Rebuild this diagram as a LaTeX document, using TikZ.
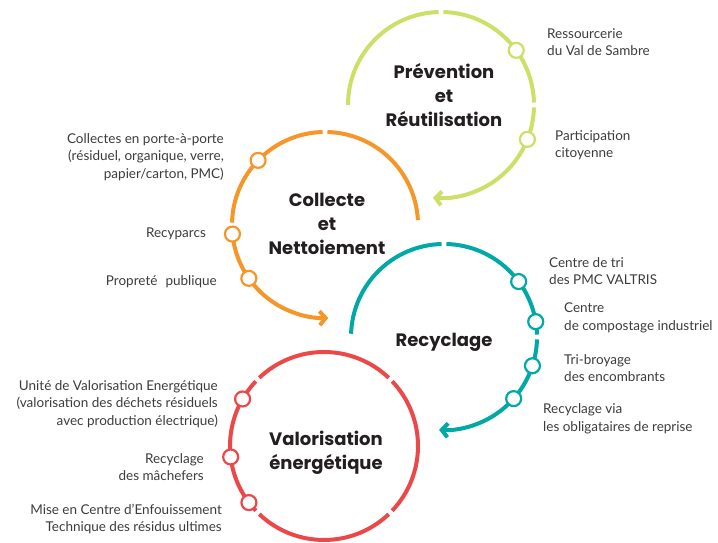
\documentclass[tikz,border=0pt]{standalone}
\usepackage{fontspec}
\setmainfont{Lato}
\newfontfamily\titlefont{Poppins}
\usetikzlibrary{arrows.meta}
\definecolor{cgreen}{RGB}{206,223,104}
\definecolor{corange}{RGB}{246,150,40}
\definecolor{cteal}{RGB}{0,168,166}
\definecolor{cred}{RGB}{235,72,74}
\definecolor{ctitle}{RGB}{35,31,32}
\definecolor{clabel}{RGB}{60,60,60}
\begin{document}
\begin{tikzpicture}[x=1pt,y=1pt,
 ring/.style={line width=4pt},
 mk/.style={circle, draw=#1, fill=white, line width=2.2pt, minimum size=15pt, inner sep=0pt},
 lbl/.style={font=\fontsize{13.5}{17.5}\selectfont, text=clabel, inner sep=0pt},
 lblL/.style={lbl, align=left, anchor=west},
 lblR/.style={lbl, align=right, anchor=east},
 ttl/.style={font=\titlefont\bfseries\fontsize{18}{24}\selectfont, text=ctitle, align=center, inner sep=0pt},
 tipend/.style={-{Straight Barb[length=6pt,width=14pt]}}
]
\useasboundingbox (0,0) rectangle (718,543);
\coordinate (gc) at (441,438);
\coordinate (oc) at (325,318);
\coordinate (tc) at (444,206);
\coordinate (rc) at (324,97);

% green ring
\draw[ring, cgreen] ([shift={(180:93)}]gc) arc[start angle=180, end angle=91.5, radius=93];
\draw[ring, cgreen] ([shift={(88.5:93)}]gc) arc[start angle=88.5, end angle=1.5, radius=93];
\draw[ring, cgreen, tipend] ([shift={(-1.5:93)}]gc) arc[start angle=-1.5, end angle=-95, radius=93];

% orange ring
\draw[ring, corange] ([shift={(3:93)}]oc) arc[start angle=3, end angle=88.5, radius=93];
\draw[ring, corange] ([shift={(91.5:93)}]oc) arc[start angle=91.5, end angle=178.5, radius=93];
\draw[ring, corange, tipend] ([shift={(181.5:93)}]oc) arc[start angle=181.5, end angle=272, radius=93];

% teal ring
\draw[ring, cteal] ([shift={(178:93)}]tc) arc[start angle=178, end angle=91.5, radius=93];
\draw[ring, cteal] ([shift={(88.5:93)}]tc) arc[start angle=88.5, end angle=1.5, radius=93];
\draw[ring, cteal, tipend] ([shift={(-1.5:93)}]tc) arc[start angle=-1.5, end angle=-93, radius=93];

% red ring
\draw[ring, cred] ([shift={(46.5:94)}]rc) arc[start angle=46.5, end angle=133.5, radius=94];
\draw[ring, cred] ([shift={(136.5:94)}]rc) arc[start angle=136.5, end angle=223.5, radius=94];
\draw[ring, cred] ([shift={(226.5:94)}]rc) arc[start angle=226.5, end angle=313.5, radius=94];
\draw[ring, cred] ([shift={(316.5:94)}]rc) arc[start angle=316.5, end angle=403.5, radius=94];

% markers
\node[mk=cgreen] (g1) at ([shift={(36:93)}]gc) {};
\node[mk=cgreen] (g2) at ([shift={(-21.7:93)}]gc) {};
\node[mk=corange] (o1) at ([shift={(136:93)}]oc) {};
\node[mk=corange] (o2) at ([shift={(185.6:93)}]oc) {};
\node[mk=corange] (o3) at ([shift={(215:93)}]oc) {};
\node[mk=cteal] (t1) at ([shift={(36.6:93)}]tc) {};
\node[mk=cteal] (t2) at ([shift={(9.5:93)}]tc) {};
\node[mk=cteal] (t3) at ([shift={(-18:93)}]tc) {};
\node[mk=cteal] (t4) at ([shift={(-41.5:93)}]tc) {};
\node[mk=cred] (r1) at ([shift={(150:94)}]rc) {};
\node[mk=cred] (r2) at ([shift={(186.7:94)}]rc) {};
\node[mk=cred] (r3) at ([shift={(217:94)}]rc) {};

% titles
\node[ttl] (tg) at (444,448) {Prévention\\et\\Réutilisation};
\node[ttl] (to) at (327,319) {Collecte\\et\\Nettoiement};
\node[ttl] (tt) at (444,201) {Recyclage};
\node[ttl] (tr) at (326,90) {Valorisation\\énergétique};

% labels
\node[lblL] (lg1) at (547,501) {Ressourcerie\\du Val de Sambre};
\node[lblL] (lg2) at (555,398) {Participation\\citoyenne};
\node[lblR] (lo1) at (224,386) {Collectes en porte-à-porte\\(résiduel, organique, verre,\\papier/carton, PMC)};
\node[lblR] (lo2) at (206,309) {Recyparcs};
\node[lblR] (lo3) at (217,261) {Propreté\hspace{0.6em}publique};
\node[lblL] (lt1) at (549,272) {Centre de tri\\des PMC VALTRIS};
\node[lblL] (lt2) at (564,225) {Centre\\de compostage industriel};
\node[lblL] (lt3) at (564,175) {Tri-broyage\\des encombrants};
\node[lblL] (lt4) at (543,124) {Recyclage via\\les obligataires de reprise};
\node[lblR] (lr1) at (218,139) {Unité de Valorisation Energétique\\(valorisation des déchets résiduels\\avec production électrique)};
\node[lblR] (lr2) at (204,76) {Recyclage\\des mâchefers};
\node[lblR] (lr3) at (222,24) {Mise en Centre d’Enfouissement\\Technique des résidus ultimes};
\end{tikzpicture}
\end{document}
